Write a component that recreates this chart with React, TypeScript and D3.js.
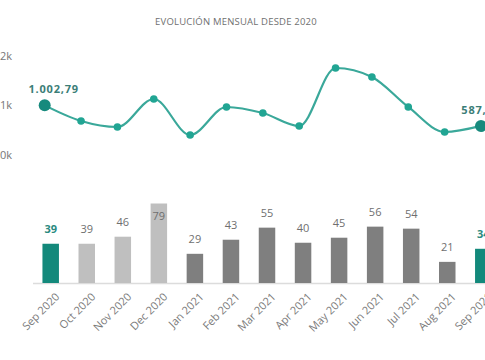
import React, { useEffect, useRef } from "react";
import * as d3 from "d3";

const months = [
  "Sep 2020", "Oct 2020", "Nov 2020", "Dec 2020", "Jan 2021", "Feb 2021", "Mar 2021",
  "Apr 2021", "May 2021", "Jun 2021", "Jul 2021", "Aug 2021", "Sep 2021",
];
const lineValues = [1002.79, 687, 566, 1131, 404, 970, 848, 586, 1758, 1576, 970, 465, 587.36];
const lineLabels = ["1.002,79", "", "", "", "", "", "", "", "", "", "", "", "587,36"];
const barValues = [39, 39, 46, 79, 29, 43, 55, 40, 45, 56, 54, 21, 34];
const barGroups = ["hl", "old", "old", "old", "new", "new", "new", "new", "new", "new", "new", "new", "hl"];
const yTicks = [0, 1000, 2000];
const yTickLabels = ["0k", "1k", "2k"];
const title = "EVOLUCIÓN MENSUAL DESDE 2020";

const W = 485;
const H = 360;
const FONT = "'Open Sans', 'Noto Sans', sans-serif";

export default function App() {
  const ref = useRef<SVGSVGElement | null>(null);

  useEffect(() => {
    document.body.style.margin = "0";
    const svg = d3.select(ref.current);
    svg.selectAll("*").remove();

    svg.append("rect").attr("width", W).attr("height", H).attr("fill", "#ffffff");

    svg.append("text")
      .attr("x", 236).attr("y", 25)
      .attr("text-anchor", "middle")
      .attr("font-family", FONT).attr("font-size", 9.5)
      .attr("letter-spacing", 0.2)
      .attr("fill", "#707070")
      .text(title);

    // ---- line chart ----
    const xL = d3.scalePoint<string>().domain(months).range([44.7, 481]);
    const yL = d3.scaleLinear().domain([0, 2000]).range([155, 56]);

    const gy = svg.append("g");
    yTicks.forEach((t, i) => {
      gy.append("text")
        .attr("x", 12).attr("y", yL(t)).attr("dy", "0.35em")
        .attr("text-anchor", "end")
        .attr("font-family", FONT).attr("font-size", 11)
        .attr("fill", "#777777")
        .text(yTickLabels[i]);
    });

    const line = d3.line<number>()
      .x((_, i) => xL(months[i]) as number)
      .y((d) => yL(d))
      .curve(d3.curveMonotoneX);

    svg.append("path")
      .datum(lineValues)
      .attr("d", line)
      .attr("fill", "none")
      .attr("stroke", "#3aa89a")
      .attr("stroke-width", 2.2);

    const last = lineValues.length - 1;
    lineValues.forEach((v, i) => {
      const big = i === 0 || i === last;
      svg.append("circle")
        .attr("cx", xL(months[i]) as number)
        .attr("cy", yL(v))
        .attr("r", big ? 6 : 3.8)
        .attr("fill", big ? "#178a7d" : "#21a593");
    });

    lineLabels.forEach((lab, i) => {
      if (!lab) return;
      const px = xL(months[i]) as number;
      svg.append("text")
        .attr("x", i === 0 ? px + 9 : px)
        .attr("y", yL(lineValues[i]) - 12)
        .attr("text-anchor", "middle")
        .attr("font-family", FONT).attr("font-size", 11).attr("font-weight", 700)
        .attr("letter-spacing", 0.8)
        .attr("fill", "#3b7e77")
        .text(lab);
    });

    // ---- bar chart ----
    const xB = d3.scalePoint<string>().domain(months).range([50.7, 483.3]);
    const yB = d3.scaleLinear().domain([0, 79]).range([283, 203.5]);
    const bw = 16.5;
    const colors: Record<string, string> = { hl: "#13897b", old: "#bfbfbf", new: "#7f7f7f" };

    svg.append("line")
      .attr("x1", 33).attr("x2", W)
      .attr("y1", 283.5).attr("y2", 283.5)
      .attr("stroke", "#dcdcdc").attr("stroke-width", 1.5);

    barValues.forEach((v, i) => {
      const cx = xB(months[i]) as number;
      const top = yB(v);
      svg.append("rect")
        .attr("x", cx - bw / 2).attr("y", top)
        .attr("width", bw).attr("height", yB(0) - top)
        .attr("fill", colors[barGroups[i]]);
      const ly = top - 11 < 208 ? top + 16 : top - 11;
      svg.append("text")
        .attr("x", cx).attr("y", ly)
        .attr("text-anchor", "middle")
        .attr("font-family", FONT).attr("font-size", 11)
        .attr("font-weight", barGroups[i] === "hl" ? 700 : 400)
        .attr("fill", barGroups[i] === "hl" ? "#2a8a80" : "#6f6f6f")
        .text(String(v));
    });

    months.forEach((m) => {
      const cx = xB(m) as number;
      svg.append("text")
        .attr("transform", `translate(${cx + 4},${292}) rotate(-45)`)
        .attr("text-anchor", "end")
        .attr("dy", "0.7em")
        .attr("font-family", FONT).attr("font-size", 11)
        .attr("fill", "#7a7a7a")
        .text(m);
    });
  }, []);

  return (
    <svg
      ref={ref}
      width={W}
      height={H}
      style={{ display: "block", position: "absolute", left: 0, top: 0 }}
    />
  );
}
